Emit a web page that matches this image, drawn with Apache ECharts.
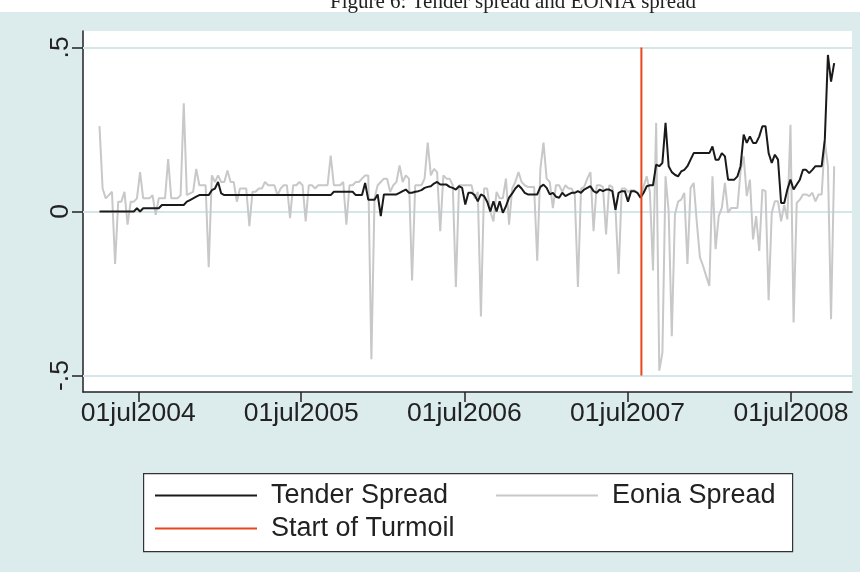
<!DOCTYPE html>
<html>
<head>
<meta charset="utf-8">
<title>Tender spread and EONIA spread</title>
<script src="https://cdn.jsdelivr.net/npm/echarts@6/dist/echarts.min.js"></script>
<style>
  html, body { margin: 0; padding: 0; background: #fff; }
  #chart { width: 860px; height: 572px; }
</style>
</head>
<body>
<div id="chart"></div>
<script>
// weekly observations, first one on 5 Apr 2004
const firstWeek = [2004, 3, 5];
const tenderSpread = [
  0, 0, 0, 0, 0, 0, 0, 0, 0, 0,
  0, 0, 0.01, 0, 0.01, 0.01, 0.01, 0.01, 0.01, 0.01,
  0.02, 0.02, 0.02, 0.02, 0.02, 0.02, 0.02, 0.02, 0.03, 0.035,
  0.04, 0.045, 0.05, 0.05, 0.05, 0.05, 0.065, 0.07, 0.09, 0.055,
  0.05, 0.05, 0.05, 0.05, 0.05, 0.05, 0.05, 0.05, 0.05, 0.05,
  0.05, 0.05, 0.05, 0.05, 0.05, 0.05, 0.05, 0.05, 0.05, 0.05,
  0.05, 0.05, 0.05, 0.05, 0.05, 0.05, 0.05, 0.05, 0.05, 0.05,
  0.05, 0.05, 0.05, 0.05, 0.05, 0.06, 0.06, 0.06, 0.06, 0.06,
  0.06, 0.06, 0.05, 0.05, 0.05, 0.087, 0.036, 0.036, 0.036, 0.052,
  -0.014, 0.052, 0.052, 0.052, 0.052, 0.052, 0.057, 0.062, 0.067, 0.057,
  0.057, 0.06, 0.062, 0.065, 0.072, 0.075, 0.077, 0.085, 0.09, 0.082,
  0.082, 0.082, 0.075, 0.072, 0.067, 0.077, 0.072, 0.021, 0.057, 0.057,
  0.05, 0.031, 0.052, 0.047, 0.03, 0, 0.031, 0, 0.031, -0.004,
  0.016, 0.042, 0.055, 0.07, 0.08, 0.07, 0.057, 0.052, 0.052, 0.052,
  0.052, 0.075, 0.082, 0.072, 0.052, 0.057, 0.045, 0.042, 0.057, 0.047,
  0.052, 0.057, 0.057, 0.062, 0.057, 0.067, 0.072, 0.077, 0.062, 0.057,
  0.067, 0.062, 0.067, 0.067, 0.062, 0.005, 0.057, 0.062, 0.062, 0.03,
  0.062, 0.062, 0.057, 0.042, 0.057, 0.077, 0.08, 0.08, 0.143, 0.138,
  0.148, 0.27, 0.138, 0.12, 0.112, 0.107, 0.122, 0.127, 0.138, 0.158,
  0.178, 0.178, 0.178, 0.178, 0.178, 0.178, 0.198, 0.158, 0.158, 0.178,
  0.168, 0.097, 0.097, 0.097, 0.107, 0.138, 0.234, 0.209, 0.229, 0.209,
  0.209, 0.229, 0.26, 0.26, 0.178, 0.148, 0.173, 0.158, 0.026, 0.026,
  0.067, 0.097, 0.067, 0.082, 0.097, 0.127, 0.127, 0.117, 0.127, 0.138,
  0.138, 0.138, 0.219, 0.477, 0.396, 0.452
];
const eoniaSpread = [
  0.26, 0.07, 0.04, 0.05, 0.06, -0.16, 0.03, 0.03, 0.06, -0.04,
  0.03, 0.03, 0.04, 0.12, 0.04, 0.04, 0.04, 0.05, -0.01, 0.04,
  0.04, 0.04, 0.16, 0.04, 0.04, 0.04, 0.05, 0.33, 0.05, 0.055,
  0.06, 0.13, 0.08, 0.08, 0.08, -0.17, 0.11, 0.09, 0.11, 0.09,
  0.09, 0.125, 0.09, 0.09, 0.03, 0.07, 0.07, 0.07, -0.045, 0.06,
  0.06, 0.07, 0.07, 0.09, 0.08, 0.08, 0.08, 0.05, 0.07, 0.08,
  0.08, -0.02, 0.08, 0.08, 0.09, 0.08, -0.03, 0.08, 0.08, 0.07,
  0.08, 0.08, 0.08, 0.08, 0.17, 0.08, 0.08, 0.08, 0.09, -0.04,
  0.08, 0.08, 0.09, 0.09, 0.1, 0.11, 0.11, -0.45, 0.04, 0.08,
  0.09, 0.1, 0.1, 0.06, 0.08, 0.09, 0.14, 0.09, 0.11, 0.1,
  -0.21, 0.08, 0.08, 0.08, 0.1, 0.21, 0.11, 0.13, 0.12, -0.06,
  0.11, 0.1, 0.1, 0.08, -0.23, 0.08, 0.08, 0.08, 0.08, 0.08,
  0.04, 0.06, -0.32, 0.07, 0.07, 0, -0.03, 0.06, 0.04, 0.04,
  0.1, -0.04, 0.07, 0.09, 0.12, 0.09, 0.08, 0.075, 0.075, 0.075,
  -0.15, 0.13, 0.21, 0.1, 0.09, 0.01, 0.08, 0.08, 0.06, 0.08,
  0.07, 0.07, 0.05, -0.23, 0.07, 0.075, 0.1, 0.12, -0.06, 0.08,
  0.08, 0.075, -0.07, 0.08, 0.075, 0.01, -0.19, 0.07, 0.07, 0.06,
  0.065, 0.065, 0.057, 0.047, 0.077, 0.107, 0.06, -0.18, 0.27, -0.485,
  -0.43, 0.107, 0, -0.38, -0.01, 0.03, 0.036, 0.057, -0.16, 0.072,
  0.087, -0.034, -0.14, -0.166, -0.197, -0.227, 0.107, -0.115, -0.014, 0.011,
  0.087, -0.004, 0.011, 0.011, 0.011, 0.123, 0.168, 0.047, 0.097, -0.085,
  -0.014, -0.12, 0.067, 0.062, -0.27, -0.004, 0.031, 0.031, -0.03, 0.02,
  -0.024, 0.264, -0.338, 0.026, 0.036, 0.052, 0.052, 0.047, 0.057, 0.031,
  0.052, 0.052, 0.214, 0.138, -0.328, 0.138
];
const turmoilDate = [2007, 7, 1];
const turmoilRange = [-0.5, 0.5];
const xTickYears = [2004, 2005, 2006, 2007, 2008];
const xRange = [[2004, 1, 28], [2008, 10, 15]];
const yTicks = [-0.5, 0, 0.5];

// dates on the x axis are drawn as fractional years
function decYear(y, m, d) {
  const t = new Date(y, m, d).getTime();
  const yy = new Date(t).getFullYear();
  const s = new Date(yy, 0, 1).getTime(), e = new Date(yy + 1, 0, 1).getTime();
  return yy + (t - s) / (e - s);
}
const weekX = i => decYear(firstWeek[0], firstWeek[1], firstWeek[2] + 7 * i);
const tenderData = tenderSpread.map((v, i) => [weekX(i), v]);
const eoniaData = eoniaSpread.map((v, i) => [weekX(i), v]);
const turmoilData = turmoilRange.map(v => [decYear(...turmoilDate), v]);
const xTicks = xTickYears.map(y => decYear(y, 6, 1));

const font = 'Liberation Sans';
const ink = '#222';
const legendText = {fontFamily: font, fontSize: 27, color: ink, lineHeight: 27, padding: [0, 0, 0, 9]};
const legendBase = {
  orient: 'horizontal', padding: 0, itemGap: 0, icon: 'rect',
  itemWidth: 102, itemHeight: 2, selectedMode: false, textStyle: legendText
};

const chart = echarts.init(document.getElementById('chart'), null, {renderer: 'canvas'});
chart.setOption({
  backgroundColor: '#DCECEC',
  animation: false,
  graphic: [
    {type: 'rect', left: 0, top: 0, shape: {width: 860, height: 12}, style: {fill: '#fff'}, z: 10},
    {type: 'text', x: 513, y: 2, z: 11, style: {
      text: 'Figure 6: Tender spread and EONIA spread', fill: ink,
      font: '21px "Liberation Serif"', textAlign: 'center', textVerticalAlign: 'middle'
    }},
    {type: 'rect', left: 143, top: 473, shape: {width: 649, height: 78},
      style: {fill: '#fff', stroke: '#333', lineWidth: 1.2}}
  ],
  legend: [
    Object.assign({data: ['Tender Spread'], left: 155, top: 482}, legendBase),
    Object.assign({data: ['Eonia Spread'], left: 496, top: 482}, legendBase),
    Object.assign({data: ['Start of Turmoil'], left: 155, top: 515}, legendBase)
  ],
  grid: {left: 83, right: 8, top: 31, bottom: 180, show: true, backgroundColor: '#fff', borderWidth: 0},
  xAxis: {
    type: 'value',
    min: decYear(...xRange[0]),
    max: decYear(...xRange[1]),
    axisLine: {onZero: false, lineStyle: {color: ink, width: 1.5}},
    axisTick: {show: true, length: 10, customValues: xTicks, lineStyle: {color: ink, width: 1.5}},
    axisLabel: {
      customValues: xTicks, margin: 8, fontFamily: font, fontSize: 26.5, color: ink,
      formatter: v => '01jul' + Math.floor(v)
    },
    splitLine: {show: false}
  },
  yAxis: {
    type: 'value',
    min: -0.55,
    max: 0.55,
    axisLine: {show: true, onZero: false, lineStyle: {color: ink, width: 1.5}},
    axisTick: {show: true, length: 11, customValues: yTicks, lineStyle: {color: ink, width: 1.5}},
    axisLabel: {
      customValues: yTicks, rotate: 90, margin: 9, fontFamily: font, fontSize: 26.5, color: ink,
      formatter: v => String(v).replace('0.', '.')
    },
    splitLine: {show: false}
  },
  series: [
    {
      name: 'Eonia Spread', type: 'line', data: eoniaData, showSymbol: false, symbol: 'none', z: 3,
      itemStyle: {color: '#C8C8C8'}, lineStyle: {color: '#C8C8C8', width: 2},
      markLine: {
        silent: true, symbol: 'none', z: 1, label: {show: false},
        lineStyle: {color: '#D3E7E8', width: 2, type: 'solid'},
        data: yTicks.map(v => ({yAxis: v}))
      }
    },
    {
      name: 'Tender Spread', type: 'line', data: tenderData, showSymbol: false, symbol: 'none', z: 4,
      itemStyle: {color: '#1A1A1A'}, lineStyle: {color: '#1A1A1A', width: 2}
    },
    {
      name: 'Start of Turmoil', type: 'line', data: turmoilData, showSymbol: false, symbol: 'none', z: 5,
      itemStyle: {color: '#E8461C'}, lineStyle: {color: '#E8461C', width: 2}
    }
  ]
});
</script>
</body>
</html>
